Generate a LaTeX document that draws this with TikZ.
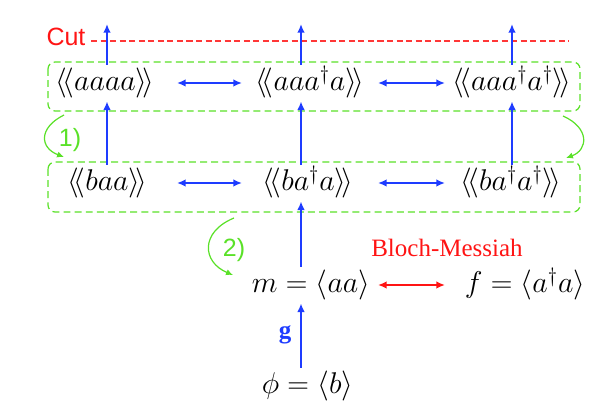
\documentclass[tikz,border=0pt]{standalone}
\usepackage{amsmath}
\usepackage{fontspec}
\usetikzlibrary{arrows.meta}
\newfontfamily\helv{Liberation Sans}
\newfontfamily\tms{Liberation Serif}
\definecolor{arrBlue}{RGB}{30,60,255}
\definecolor{cutRed}{RGB}{255,20,20}
\definecolor{grpGreen}{RGB}{90,225,40}
\newcommand{\corr}[1]{\langle\!\langle #1\rangle\!\rangle}

\begin{document}
\begin{tikzpicture}[
  x=0.576pt, y=-0.576pt,
  mth/.style={font=\LARGE, inner xsep=1pt, inner ysep=1.5pt, text height=13.5pt, text depth=4.3pt},
  lbl/.style={font=\helv\Large, inner sep=3pt},
  vup/.style={arrBlue, line width=1pt, -{Latex[length=5pt, width=4.4pt]}},
  harr/.style={arrBlue, line width=1pt, {Latex[length=5pt, width=4.4pt]}-{Latex[length=5pt, width=4.4pt]}},
  bmarr/.style={cutRed, line width=1pt, {Latex[length=5pt, width=4.4pt]}-{Latex[length=5pt, width=4.4pt]}},
  grpbox/.style={grpGreen, line width=0.7pt, dash pattern=on 4pt off 2.4pt, rounded corners=4pt},
  grnarr/.style={grpGreen, line width=0.7pt, -{Latex[length=4pt, width=3.6pt]}},
  cutline/.style={cutRed!85, line width=0.8pt, dash pattern=on 3.5pt off 2pt},
]
  \useasboundingbox (0,0) rectangle (602,411);

  % columns of the arrows
  \coordinate (c1) at (107,0);
  \coordinate (c2) at (301,0);
  \coordinate (c3) at (512,0);
  \coordinate (h1s) at (177,0);
  \coordinate (h1e) at (242,0);
  \coordinate (h2s) at (378,0);
  \coordinate (h2e) at (445,0);

  % moments
  \node[mth] (a1) at (105,83)    {$\corr{aaaa}$};
  \node[mth] (a2) at (309.5,83)  {$\corr{aaa^\dagger a}$};
  \node[mth] (a3) at (512,83)    {$\corr{aaa^\dagger a^\dagger}$};
  \node[mth] (b1) at (107,183) {$\corr{baa}$};
  \node[mth] (b2) at (308,183) {$\corr{ba^\dagger a}$};
  \node[mth] (b3) at (511,183) {$\corr{ba^\dagger a^\dagger}$};
  \node[mth] (m)   at (311,285)   {$m = \langle aa\rangle$};
  \node[mth] (f)   at (525,285)   {$f = \langle a^\dagger a\rangle$};
  \node[mth] (phi) at (307.5,386) {$\phi = \langle b\rangle$};

  \node[lbl, text=cutRed, anchor=base] (cut) at (66,46) {Cut};
  \coordinate (cutend) at (569,41);
  \draw[cutline] (cut.east |- cutend) -- (cutend);

  \draw[grpbox] (48,62) rectangle (580,111);
  \draw[grpbox] (48,162) rectangle (580,212);

  \coordinate (t1) at (107,24);
  \coordinate (t2) at (301,24);
  \coordinate (t3) at (512,24);
  \draw[vup] (a1.north -| c1) -- (t1);
  \draw[vup] (a2.north -| c2) -- (t2);
  \draw[vup] (a3.north -| c3) -- (t3);
  \draw[vup] (b1.north -| c1) -- (a1.south -| c1);
  \draw[vup] (b2.north -| c2) -- (a2.south -| c2);
  \draw[vup] (b3.north -| c3) -- (a3.south -| c3);
  \draw[vup] (m.north -| c2) -- (b2.south -| c2);
  \draw[vup] (phi.north -| c2) -- (m.south -| c2);

  \draw[harr] (a1 -| h1s) -- (a2 -| h1e);
  \draw[harr] (a2 -| h2s) -- (a3 -| h2e);
  \draw[harr] (b1 -| h1s) -- (b2 -| h1e);
  \draw[harr] (b2 -| h2s) -- (b3 -| h2e);
  \draw[bmarr] (m -| h2s) -- (f -| h2e);

  \node[font=\tms\Large, text=cutRed, anchor=base] (bm) at (447,257) {Bloch-Messiah};
  \node[font=\tms\Large\bfseries, text=arrBlue, anchor=base] (g) at (285,339) {g};

  % steps
  \coordinate (k1s) at (64,115);
  \coordinate (k1e) at (64,157);
  \coordinate (k3s) at (563,116);
  \coordinate (k3e) at (566,158);
  \coordinate (k2s) at (234,218);
  \coordinate (k2e) at (233,275);
  \draw[grnarr] (k1s) .. controls (38,128) and (40,148) .. (k1e);
  \draw[grnarr] (k3s) .. controls (590,128) and (588,150) .. (k3e);
  \draw[grnarr] (k2s) .. controls (200,232) and (202,262) .. (k2e);
  \node[lbl, text=grpGreen] (s1) at (70,140) {1)};
  \node[lbl, text=grpGreen] (s2) at (234,250) {2)};
\end{tikzpicture}
\end{document}
